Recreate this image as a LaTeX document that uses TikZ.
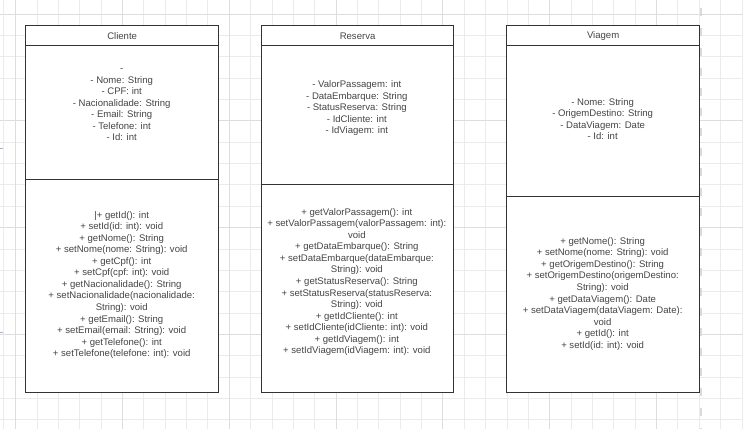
\documentclass[tikz,border=0pt]{standalone}
\usepackage{fontspec}
\setmainfont{Liberation Sans}
\definecolor{gridminor}{HTML}{EBEBEB}
\definecolor{gridmajor}{HTML}{DDDDDD}
\definecolor{boxline}{HTML}{333333}
\definecolor{txtc}{HTML}{444444}
\definecolor{shadowc}{HTML}{A8A8A8}
\definecolor{pagebreak}{HTML}{DADADA}
\definecolor{tickc}{HTML}{A8B4C4}
\tikzset{
  gridminorline/.style={draw=gridminor, line width=0.9pt},
  gridmajorline/.style={draw=gridmajor, line width=0.9pt},
  compartment/.style={draw=boxline, line width=1pt, fill=white, inner sep=0pt,
    minimum width=192.7pt, anchor=north west, text=txtc,
    font=\fontsize{9.56}{11.55}\selectfont},
  membertext/.style={align=center, inner sep=0pt, text=txtc,
    font=\fontsize{9.56}{11.55}\selectfont,
    execute at begin node=\strut, execute at end node=\strut},
  shadowbox/.style={fill=shadowc},
  pagebreakline/.style={draw=pagebreak, line width=2.2pt, dash pattern=on 8pt off 12pt},
  tickline/.style={draw=tickc, line width=0.8pt}
}
\begin{document}
\begin{tikzpicture}[x=1pt, y=-1pt]
\useasboundingbox (0,0) rectangle (743,429);
\fill[white] (0,0) rectangle (743,429);
% grid
\foreach \k in {0,...,34} \draw[gridminorline] ({15.7+21.36*\k},0) -- ({15.7+21.36*\k},429);
\foreach \k in {0,...,19} \draw[gridminorline] (0,{14+21.36*\k}) -- (743,{14+21.36*\k});
\foreach \k in {0,5,...,30} \draw[gridmajorline] ({15.7+21.36*\k},0) -- ({15.7+21.36*\k},429);
\foreach \k in {0,5,10,15} \draw[gridmajorline] (0,{14+21.36*\k}) -- (743,{14+21.36*\k});
\draw[gridminorline] (3.3,0) -- (3.3,429);
\draw[tickline] (0,148) -- (3.3,148);
\draw[tickline] (0,332) -- (3.3,332);
% shadows
\fill[shadowbox] (26.5,26.5) rectangle (219.3,393.3);
\fill[shadowbox] (261.9,26.5) rectangle (454.3,393.3);
\fill[shadowbox] (507.5,26.5) rectangle (700.3,393.3);
% Cliente
\node[compartment, minimum height=20pt] (cliH) at (25.3,25.3) {Cliente};
\node[compartment, minimum height=133.4pt] (cliA) at (25.3,45.3) {};
\node[compartment, minimum height=213.3pt] (cliM) at (25.3,178.7) {};
\node[membertext] (cliAt) at (121.7,106.4) {-\\- Nome: String\\- CPF: int\\- Nacionalidade: String\\- Email: String\\- Telefone: int\\- Id: int};
\node[membertext] (cliMt) at (121.7,285.7) {|+ getId(): int\\+ setId(id: int): void\\+ getNome(): String\\+ setNome(nome: String): void\\+ getCpf(): int\\+ setCpf(cpf: int): void\\+ getNacionalidade(): String\\+ setNacionalidade(nacionalidade:\\String): void\\+ getEmail(): String\\+ setEmail(email: String): void\\+ getTelefone(): int\\+ setTelefone(telefone: int): void};
% Reserva
\node[compartment, minimum height=20pt] (resH) at (260.7,25.3) {Reserva};
\node[compartment, minimum height=138.7pt] (resA) at (260.7,45.3) {};
\node[compartment, minimum height=208pt] (resM) at (260.7,184) {};
\node[membertext] (resAt) at (356.85,109) {- ValorPassagem: int\\- DataEmbarque: String\\- StatusReserva: String\\- IdCliente: int\\- IdViagem: int};
\node[membertext] (resMt) at (356.85,282.8) {+ getValorPassagem(): int\\+ setValorPassagem(valorPassagem: int):\\void\\+ getDataEmbarque(): String\\+ setDataEmbarque(dataEmbarque:\\String): void\\+ getStatusReserva(): String\\+ setStatusReserva(statusReserva:\\String): void\\+ getIdCliente(): int\\+ setIdCliente(idCliente: int): void\\+ getIdViagem(): int\\+ setIdViagem(idViagem: int): void};
% Viagem
\node[compartment, minimum height=20pt] (viaH) at (506.3,25.3) {Viagem};
\node[compartment, minimum height=150.7pt] (viaA) at (506.3,45.3) {};
\node[compartment, minimum height=196pt] (viaM) at (506.3,196) {};
\node[membertext] (viaAt) at (602.65,120.7) {- Nome: String\\- OrigemDestino: String\\- DataViagem: Date\\- Id: int};
\node[membertext] (viaMt) at (602.65,294.5) {+ getNome(): String\\+ setNome(nome: String): void\\+ getOrigemDestino(): String\\+ setOrigemDestino(origemDestino:\\String): void\\+ getDataViagem(): Date\\+ setDataViagem(dataViagem: Date):\\void\\+ getId(): int\\+ setId(id: int): void};
% page break line
\draw[pagebreakline] (700.6,8) -- (700.6,429);
\end{tikzpicture}
\end{document}
